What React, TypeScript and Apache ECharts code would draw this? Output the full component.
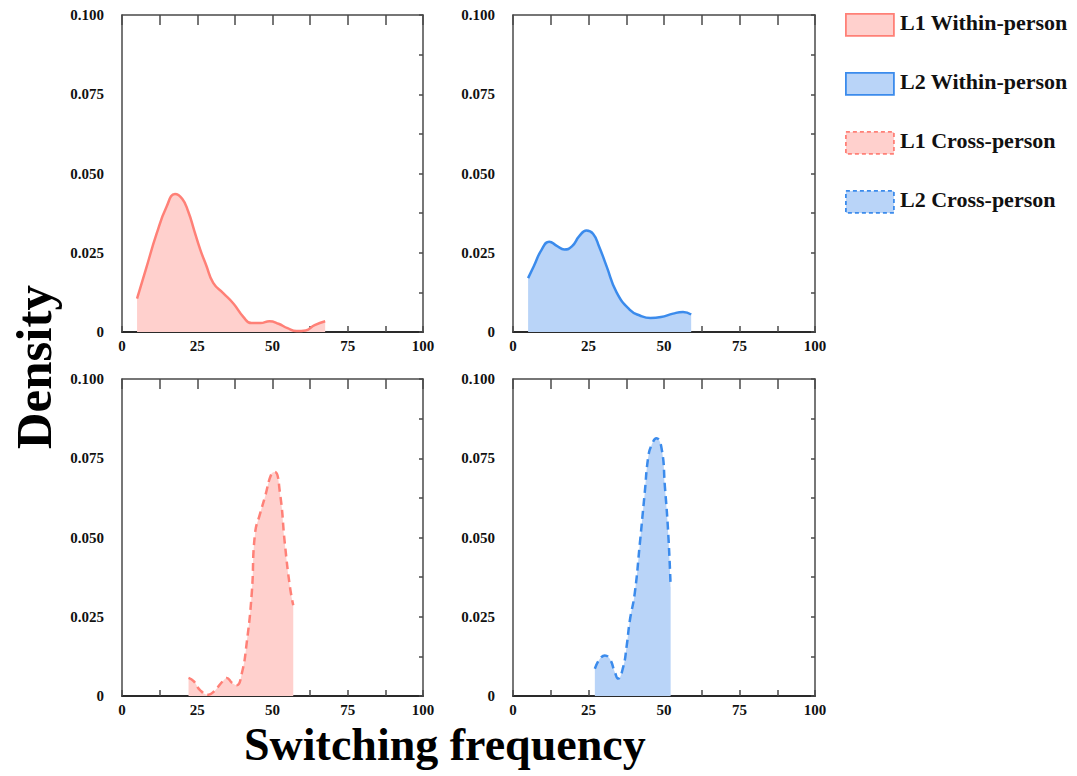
import React, { useEffect, useRef } from "react";
import * as echarts from "echarts";

const xTicks = [0, 25, 50, 75, 100];
const yTicks = [0, 0.025, 0.05, 0.075, 0.1];

const l1Within: [number, number][] = [
  [5, 0.0105], [8, 0.02], [11.5, 0.031], [14.8, 0.0395], [17.6, 0.0435], [20, 0.042],
  [22, 0.038], [24, 0.032], [26, 0.026], [28, 0.021], [30.3, 0.0155], [33.7, 0.0122],
  [37, 0.009], [40.3, 0.0048], [43, 0.0028], [46, 0.0028], [49, 0.0034], [52, 0.0026],
  [55, 0.0012], [58, 0.0003], [61, 0.0005], [64, 0.0022], [67.5, 0.0034],
];

const l2Within: [number, number][] = [
  [5, 0.017], [7, 0.021], [9.5, 0.026], [12, 0.0285], [14.5, 0.0272], [17, 0.026],
  [19.5, 0.027], [22, 0.0303], [24.3, 0.032], [26.5, 0.031], [28.5, 0.027], [31, 0.0207],
  [34.3, 0.0125], [38.7, 0.007], [42, 0.0052], [45.5, 0.0044], [49, 0.0047], [53, 0.0058],
  [56.3, 0.0063], [59, 0.0055],
];

const l1Cross: [number, number][] = [
  [22.1, 0.0057], [23.8, 0.0047], [26, 0.0018], [28.7, 0.0004], [30.4, 0.0013], [33.7, 0.0049],
  [34.8, 0.0057], [36.5, 0.0042], [38.1, 0.0034], [39.8, 0.0071], [41.4, 0.0165], [43.1, 0.0323],
  [44.2, 0.0513], [45.9, 0.0576], [47.5, 0.0628], [49.7, 0.0702], [50.8, 0.0707], [52.5, 0.0639],
  [54.1, 0.0481], [55.8, 0.0344], [56.9, 0.0286],
];

const l2Cross: [number, number][] = [
  [27.1, 0.0086], [30.4, 0.0128], [32, 0.0118], [33.7, 0.0076], [34.8, 0.0055], [36.5, 0.0092],
  [37.6, 0.0155], [38.7, 0.0239], [40.3, 0.0323], [42, 0.0481], [43.6, 0.0639], [44.8, 0.0755],
  [45.9, 0.0792], [47.5, 0.0813], [49.2, 0.0781], [50.3, 0.066], [51.4, 0.0513], [52.2, 0.0344],
];

const seriesNames = ["L1 Within-person", "L2 Within-person", "L1 Cross-person", "L2 Cross-person"];

const PINK_LINE = "#ff8077";
const PINK_FILL = "#ffd0cd";
const BLUE_LINE = "#3b8bec";
const BLUE_FILL = "#b9d4f8";
const FONT = "Liberation Serif";

export default function App() {
  const ref = useRef<HTMLDivElement>(null);
  useEffect(() => {
    if (!ref.current) return;
    const chart = echarts.init(ref.current, undefined, { renderer: "svg" });
    const grids = [
      { left: 122, top: 15, width: 301, height: 317 },
      { left: 513, top: 15, width: 302, height: 317 },
      { left: 122, top: 379, width: 301, height: 317 },
      { left: 513, top: 379, width: 302, height: 317 },
    ];
    const datasets = [l1Within, l2Within, l1Cross, l2Cross];
    const lineColors = [PINK_LINE, BLUE_LINE, PINK_LINE, BLUE_LINE];
    const fillColors = [PINK_FILL, BLUE_FILL, PINK_FILL, BLUE_FILL];
    const dashed = [false, false, true, true];
    const axisLineStyle = { color: "#4a4a4a", width: 1.5 };
    const tickStyle = { color: "#4a4a4a", width: 1.5 };
    const labelStyle = { fontFamily: FONT, fontWeight: "bold" as const, fontSize: 15, color: "#111" };

    const xAxis: any[] = [];
    const yAxis: any[] = [];
    const series: any[] = [];
    grids.forEach((_, i) => {
      xAxis.push({
        type: "value", gridIndex: i, position: "bottom", min: xTicks[0], max: xTicks[xTicks.length - 1], interval: 12.5,
        axisLine: { show: true, onZero: false, lineStyle: { color: "#2a2a2a", width: 2 } },
        axisTick: { show: true, inside: true, length: 6, lineStyle: tickStyle },
        splitLine: { show: false },
        axisLabel: {
          ...labelStyle, margin: 6,
          formatter: (v: number) => (xTicks.includes(v) ? String(v) : ""),
        },
      });
      xAxis.push({
        type: "value", gridIndex: i, position: "top", min: 0, max: 100, interval: 12.5,
        axisLine: { show: true, onZero: false, lineStyle: axisLineStyle },
        axisTick: { show: true, inside: true, length: 10, lineStyle: tickStyle },
        axisLabel: { show: false }, splitLine: { show: false },
      });
      yAxis.push({
        type: "value", gridIndex: i, position: "left", min: yTicks[0], max: yTicks[yTicks.length - 1], interval: 0.025,
        axisLine: { show: true, onZero: false, lineStyle: axisLineStyle },
        axisTick: { show: false }, splitLine: { show: false },
        axisLabel: {
          ...labelStyle, margin: 18,
          formatter: (v: number) => (Math.abs(v) < 1e-9 ? "0" : v.toFixed(3)),
        },
      });
      yAxis.push({
        type: "value", gridIndex: i, position: "right", min: 0, max: 0.1, interval: 0.0125,
        axisLine: { show: true, onZero: false, lineStyle: axisLineStyle },
        axisTick: { show: true, inside: true, length: 4, lineStyle: tickStyle },
        axisLabel: { show: false }, splitLine: { show: false },
      });
      series.push({
        name: seriesNames[i], type: "line", xAxisIndex: 2 * i, yAxisIndex: 2 * i,
        data: datasets[i], smooth: 0.5, showSymbol: false, symbol: "none",
        lineStyle: { color: lineColors[i], width: 2.5, type: dashed[i] ? [8, 5] : "solid" },
        areaStyle: { color: fillColors[i], opacity: 1, origin: "start" },
        z: 2,
      });
    });

    const legendGraphics: any[] = [];
    const rowY = [24, 83, 142, 201];
    seriesNames.forEach((name, i) => {
      legendGraphics.push({
        type: "rect", left: 845, top: rowY[i] - 11,
        shape: { width: 48, height: 22 },
        style: {
          fill: fillColors[i], stroke: lineColors[i], lineWidth: 1.8,
          lineDash: dashed[i] ? [4, 3] : null,
        },
      });
      legendGraphics.push({
        type: "text", left: 900, top: rowY[i] - 13,
        style: { text: name, font: `bold 22px "${FONT}"`, fill: "#111" },
      });
    });
    legendGraphics.push({
      type: "text", left: 8, top: 285, rotation: Math.PI / 2,
      style: { text: "Density", font: `bold 51px "${FONT}"`, fill: "#000" },
    });
    legendGraphics.push({
      type: "text", left: 244, top: 721,
      style: { text: "Switching frequency", font: `bold 46px "${FONT}"`, fill: "#000" },
    });

    chart.setOption({
      animation: false,
      backgroundColor: "#fff",
      grid: grids.map((g) => ({ ...g, containLabel: false })),
      xAxis, yAxis, series,
      graphic: legendGraphics,
    });
    return () => chart.dispose();
  }, []);
  return (
    <div
      ref={ref}
      style={{ position: "fixed", left: 0, top: 0, width: 1077, height: 776, background: "#fff" }}
    />
  );
}
